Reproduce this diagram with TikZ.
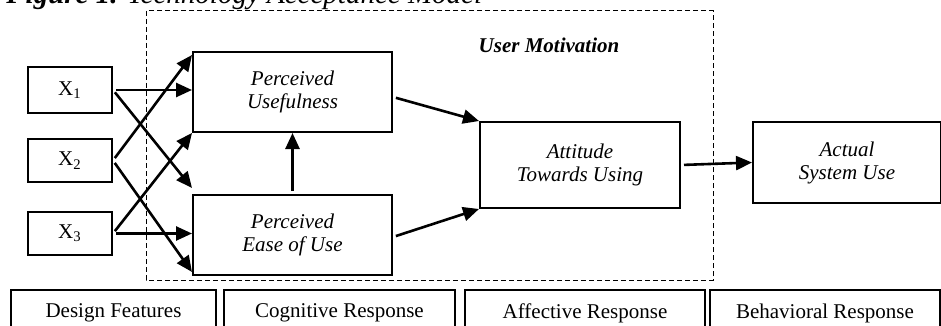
\documentclass[tikz,border=0pt]{standalone}
\usepackage{fontspec}
\setmainfont{Liberation Serif}
\usepackage{tikz}
\usetikzlibrary{positioning,arrows.meta}

\tikzset{
  xbox/.style={draw, line width=1pt, minimum width=42pt, minimum height=23pt, inner sep=0pt, font=\fontsize{10.5}{11.5}\selectfont},
  tambox/.style={draw, line width=1pt, inner sep=0pt, align=center, font=\fontsize{10.5}{11.5}\selectfont\itshape},
  stagebox/.style={draw, line width=1pt, inner sep=0pt, minimum height=23pt, font=\fontsize{10.5}{11.5}\selectfont},
  link/.style={line width=1.3pt, shorten <=1.5pt, -{Triangle[length=8pt,width=7pt]}}
}

\begin{document}
\begin{tikzpicture}[x=0.5pt, y=-0.5pt]
\useasboundingbox (0,0) rectangle (941,326);
\clip (0,0) rectangle (941,326);
\node[anchor=base west, inner sep=0pt, font=\fontsize{14.5}{16}\selectfont] (node_title) at (6,4) {\textbf{\textit{Figure 1.}} \textit{Technology Acceptance Model}};
\draw[line width=0.5pt, dash pattern=on 2.5pt off 1.5pt] (146,11) rectangle (713,280);
\node[font=\fontsize{10.5}{11.5}\selectfont\bfseries\itshape] (node_motiv) at (549,45) {User Motivation};
\node[xbox] (node_x1) at (70,90) {X\textsubscript{1}};
\node[xbox, minimum height=21.5pt] (node_x2) at (70,160.5) {X\textsubscript{2}};
\node[xbox, minimum height=21.5pt] (node_x3) at (70,233.5) {X\textsubscript{3}};
\node[tambox, minimum width=99.5pt, minimum height=40pt] (node_pu) at (292.5,92) {Perceived\\Usefulness};
\node[tambox, minimum width=99.5pt, minimum height=40pt] (node_peou) at (292.5,235) {Perceived\\Ease of Use};
\node[tambox, minimum width=100pt, minimum height=43pt] (node_att) at (580,165) {Attitude\\Towards Using};
\node[tambox, minimum width=94pt, minimum height=40.5pt] (node_use) at (847,162.5) {Actual\\System Use};
\node[stagebox, minimum width=102.5pt] (node_design) at (113.5,313) {Design Features};
\node[stagebox, minimum width=115.5pt] (node_cogn) at (339.5,313) {Cognitive Response};
\node[stagebox, minimum width=120pt] (node_affect) at (585,313) {Affective Response};
\node[stagebox, minimum width=115pt] (node_behav) at (825,313) {Behavioral Response};
\draw[link] (node_x1.east) -- (node_x1.east -| node_pu.west);
\draw[link] (node_x1.east) -- ([yshift=3pt]node_peou.north west);
\draw[link] (node_x2.east) -- ([yshift=-2pt]node_pu.north west);
\draw[link] (node_x2.east) -- ([yshift=2pt]node_peou.south west);
\draw[link] (node_x3.east) -- (node_x3.east -| node_peou.west);
\draw[link] (node_x3.east) -- (node_pu.south west);
\draw[link] ([yshift=-2.5pt]node_pu.east) -- (node_att.north west);
\draw[link] ([yshift=-1pt]node_peou.east) -- (node_att.south west);
\draw[link] (node_peou.north) -- (node_pu.south);
\draw[link] (node_att.east) -- (node_use.west);
\end{tikzpicture}
\end{document}
